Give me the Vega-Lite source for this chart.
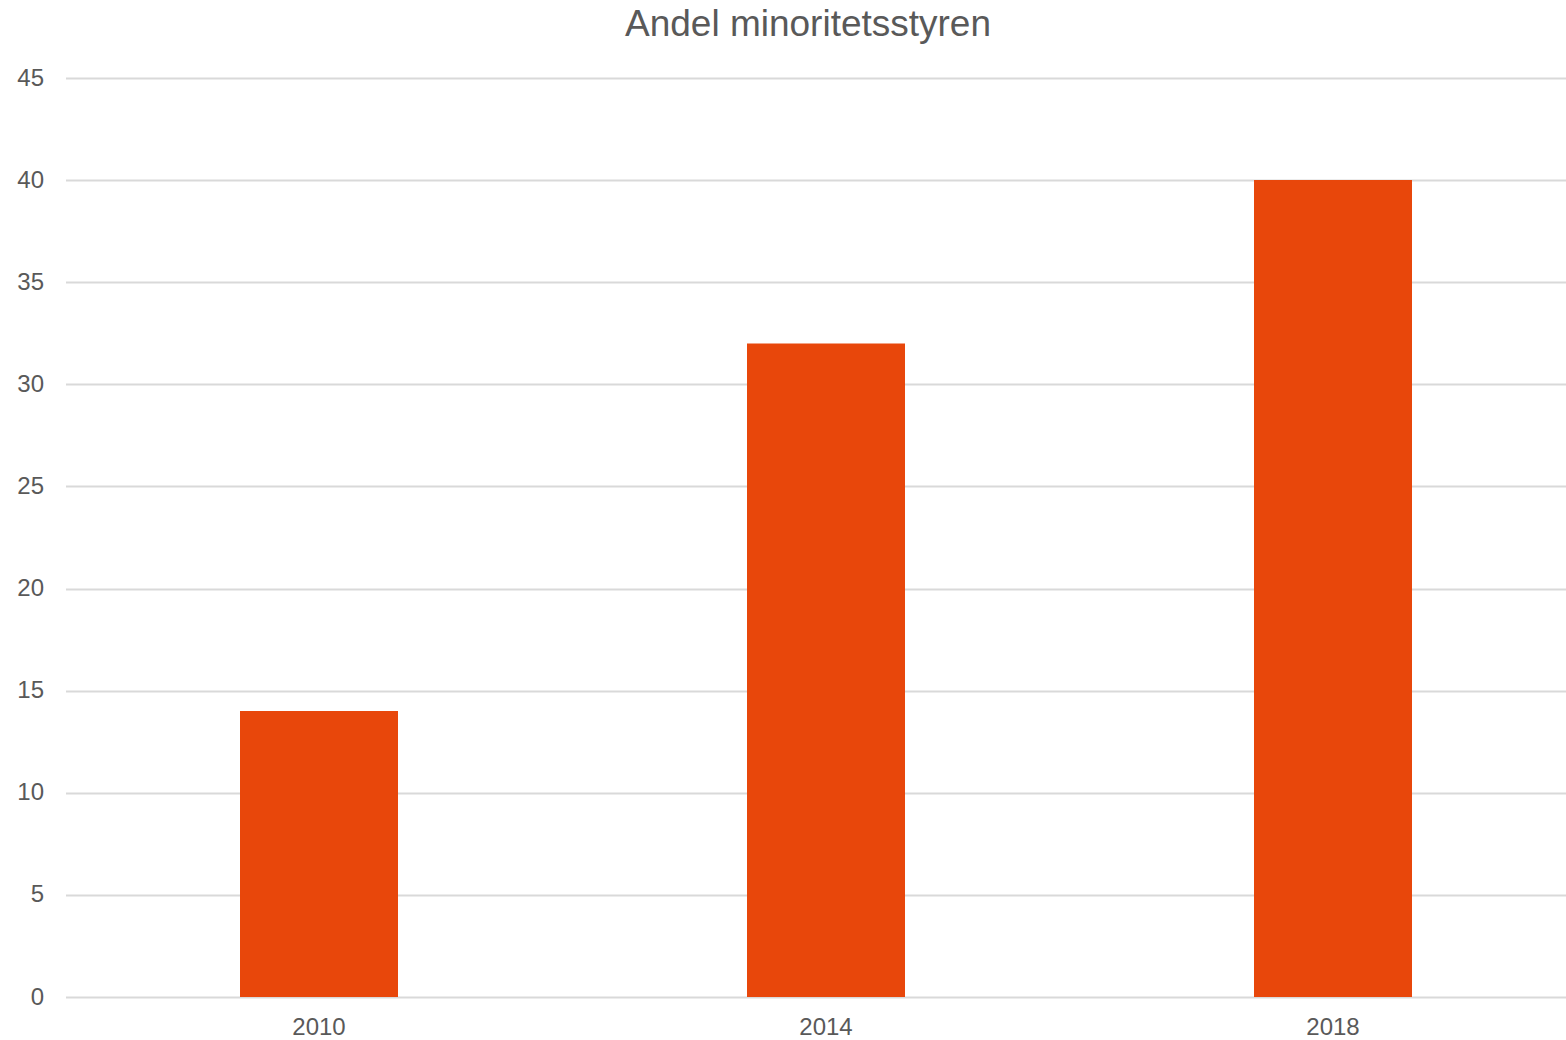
{
  "$schema": "https://vega.github.io/schema/vega-lite/v6.json",
  "width": 1521,
  "height": 919,
  "autosize": {"type": "none"},
  "padding": {"left": 65.5, "top": 78, "right": 0, "bottom": 43},
  "background": "white",
  "title": {
    "text": "Andel minoritetsstyren",
    "font": "Liberation Sans",
    "fontSize": 37,
    "fontWeight": "normal",
    "color": "#595959",
    "anchor": "middle",
    "frame": "group",
    "dx": -18,
    "offset": 22
  },
  "data": {
    "values": [
      {"year": "2010", "value": 14},
      {"year": "2014", "value": 32},
      {"year": "2018", "value": 40}
    ]
  },
  "mark": {"type": "bar", "width": 158, "color": "#E8470B"},
  "encoding": {
    "x": {
      "field": "year",
      "type": "nominal",
      "scale": {"paddingInner": 0, "paddingOuter": 0},
      "axis": {
        "title": null,
        "labelAngle": 0,
        "domain": false,
        "ticks": false,
        "labelFont": "Liberation Sans",
        "labelFontSize": 24,
        "labelColor": "#595959",
        "labelPadding": 18
      }
    },
    "y": {
      "field": "value",
      "type": "quantitative",
      "scale": {"domain": [0, 45], "nice": false},
      "axis": {
        "title": null,
        "values": [0, 5, 10, 15, 20, 25, 30, 35, 40, 45],
        "domain": false,
        "ticks": false,
        "grid": true,
        "gridColor": "#D9D9D9",
        "gridWidth": 2,
        "labelFont": "Liberation Sans",
        "labelFontSize": 24,
        "labelColor": "#595959",
        "labelPadding": 22
      }
    }
  },
  "config": {"view": {"stroke": null}}
}
